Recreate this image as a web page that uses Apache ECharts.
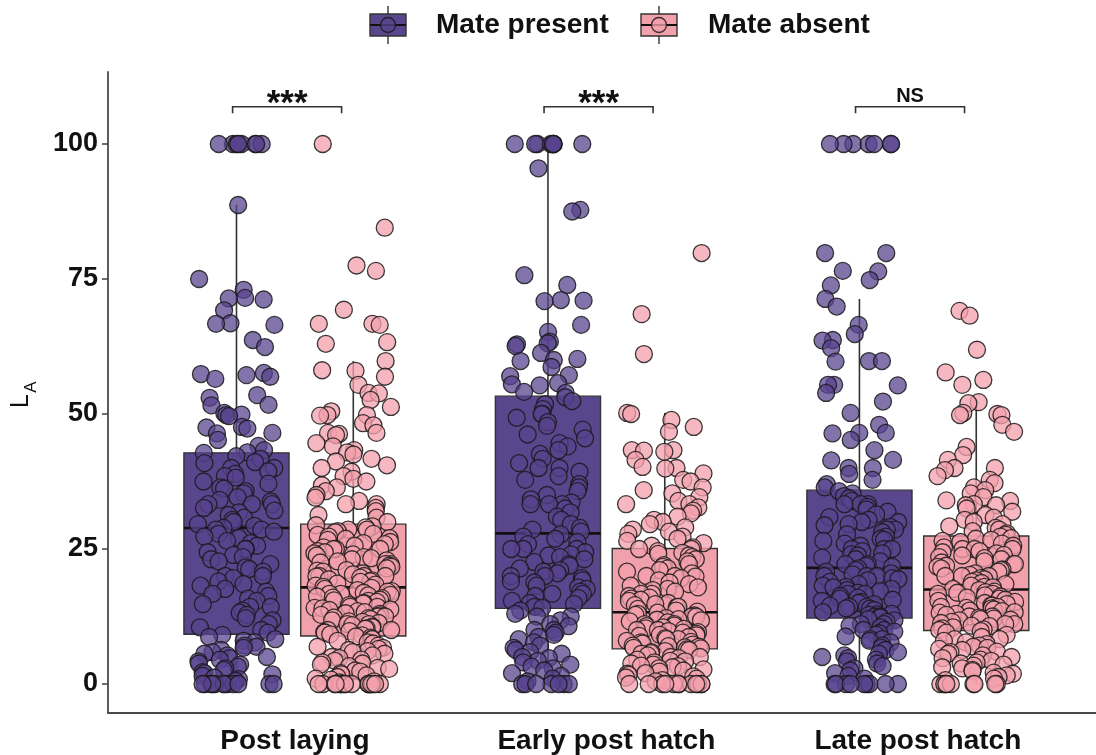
<!DOCTYPE html>
<html>
<head>
<meta charset="utf-8">
<script src="https://cdn.jsdelivr.net/npm/echarts@6/dist/echarts.min.js"></script>
<style>
  html, body { margin: 0; padding: 0; background: #ffffff; }
  #chart { width: 1096px; height: 755px; }
</style>
</head>
<body>
<div id="chart"></div>
<script>
// ---- data ----
const categories = ['Post laying', 'Early post hatch', 'Late post hatch'];
const groupNames = ['Mate present', 'Mate absent'];
const yTicks = [0, 25, 50, 75, 100];
const signifLabels = ['***', '***', 'NS'];

// individual L_A values per nest stage and treatment
const postLayingPresent = [
  100, 100, 100, 100, 100, 100, 100, 100, 88.7, 75.0, 73.0, 71.5, 71.4, 71.2, 69.2, 66.8, 66.7, 66.5,
  63.7, 62.4, 57.6, 57.4, 57.2, 56.9, 56.5, 53.5, 53.0, 51.7, 51.6, 50.2, 49.9, 49.8, 49.6, 47.6,
  47.5, 47.3, 46.5, 46.4, 45.2, 44.1, 43.3,
  42.9, 42.8, 42.2, 41.7, 41.1, 40.9, 40.0, 40.0, 39.4, 38.9, 38.5, 38.2, 37.5, 37.1, 36.4, 36.2,
  35.7, 35.3, 34.6, 34.1, 33.8, 33.3, 33.3, 33.3, 32.6, 32.1, 31.8, 31.3, 30.8, 30.4, 30.0, 29.6,
  29.3, 28.9, 28.6, 28.6,
  28.2, 27.8, 27.3, 27.0, 26.5, 26.1, 25.6, 25.0, 25.0, 24.4, 23.9, 23.5, 23.1, 22.7, 22.2, 21.6,
  21.3, 20.8, 20.0, 20.0, 19.6, 19.0, 18.5, 18.2, 17.6, 17.1, 16.7, 16.3, 15.8, 15.4, 14.8, 14.3,
  14.3, 13.6, 13.2, 12.8, 12.2, 11.8, 11.1, 10.5, 10.0, 9.5,
  9.1, 8.7, 8.3, 8.0, 7.7, 7.1, 6.9, 6.7, 6.3, 5.9, 5.6, 5.3, 5.0, 4.8, 4.5, 4.2, 3.8, 3.6, 3.2,
  2.9, 2.6, 2.2, 2.0, 1.8, 1.5, 1.2, 0.9, 0.6, 0, 0, 0, 0, 0, 0, 0, 0, 0, 0, 0, 0
];
const postLayingAbsent = [
  100, 84.5, 77.5, 76.5, 69.3, 66.7, 66.7, 66.5, 63.3, 63.0, 59.8, 58.1, 58.0, 56.9, 55.4, 53.9,
  53.8, 52.6, 51.3, 50.5, 49.8, 49.8, 49.7, 48.3, 47.9, 46.5, 46.5, 46.3, 46.1, 44.6, 44.0, 43.3,
  42.9, 42.5, 41.7, 41.2, 40.5, 40.0, 39.3, 38.5, 38.0, 37.5, 36.8, 36.4, 35.7, 35.0, 34.5, 33.9,
  33.3, 33.3, 32.6, 32.0, 31.3, 30.8, 30.0,
  29.4, 29.2, 29.0, 28.6, 28.6, 28.3, 28.1, 27.8, 27.6, 27.3, 27.0, 26.9, 26.7, 26.3, 26.1, 25.9,
  25.6, 25.3, 25.0, 25.0, 25.0, 24.6, 24.4, 24.2, 24.0, 23.8, 23.5, 23.3, 23.1, 22.9, 22.7, 22.5,
  22.2, 22.2, 21.9, 21.7, 21.4, 21.1, 21.0, 20.8, 20.5, 20.3, 20.0, 20.0, 20.0, 19.9, 19.7, 19.4,
  19.2, 19.0, 18.9, 18.6, 18.4, 18.2, 18.0,
  17.8, 17.6, 17.4, 17.2, 17.1, 16.9, 16.7, 16.7, 16.5, 16.4, 16.2, 16.0, 15.9, 15.6, 15.5, 15.4,
  15.2, 15.0, 14.9, 14.6, 14.3, 14.3, 14.1, 14.0, 13.8, 13.7, 13.5, 13.3, 13.1, 13.0, 12.8, 12.7,
  12.5, 12.5, 12.3, 12.2, 12.0, 11.8, 11.6, 11.5, 11.3, 11.1, 11.1, 10.9, 10.6, 10.5, 10.3, 10.2,
  10.0, 10.0, 9.8, 9.6, 9.5, 9.2, 9.0,
  8.8, 8.6, 8.3, 8.3, 8.0, 7.7, 7.5, 7.1, 6.9, 6.7, 6.5, 6.3, 6.1, 5.9, 5.6, 5.3, 5.0, 4.8, 4.5,
  4.3, 4.0, 3.8, 3.6, 3.3, 3.0, 2.8, 2.5, 2.3, 2.0, 1.8, 1.6, 1.3, 1.0, 0.8, 0.5, 0.3,
  0, 0, 0, 0, 0, 0, 0, 0, 0, 0, 0, 0, 0, 0, 0, 0
];
const earlyHatchPresent = [
  100, 100, 100, 100, 100, 100, 100, 100, 100, 95.5, 87.8, 87.5, 75.7, 73.9, 71.1, 71.0, 70.9, 66.5,
  65.2, 63.4, 63.1, 62.9, 62.6, 61.3, 60.2, 60.0, 59.8, 58.7, 57.2, 57.0, 55.7, 55.5, 55.3, 54.1, 53.9,
  53.1, 52.4, 51.8, 50.9, 50.0, 50.0, 49.3, 48.5, 47.8, 47.1, 46.2, 45.5, 44.6, 44.0, 43.3, 42.6,
  41.7, 40.9, 40.0, 40.0, 39.3, 38.5, 37.8, 37.0, 36.4, 35.7, 35.0, 34.2, 33.6, 33.3, 33.3, 33.3,
  32.5, 31.8, 31.0, 30.4, 29.6, 28.9, 28.6, 28.2,
  27.7, 27.3, 26.9, 26.3, 25.9, 25.0, 25.0, 25.0, 24.4, 24.0, 23.8, 23.5, 23.1, 22.6, 22.2, 21.9,
  21.4, 21.1, 20.8, 20.5, 20.0, 20.0, 19.6, 19.2, 19.0, 18.8, 18.2, 17.9, 17.6, 17.1, 16.7, 16.7,
  16.3, 15.9, 15.4, 15.0, 14.8, 14.3, 14.3, 14.1,
  13.6, 13.0, 12.5, 12.5, 11.8, 11.1, 10.7, 10.0, 10.0, 9.5, 9.1, 8.7, 8.3, 7.7, 7.1, 6.7, 6.3,
  5.9, 5.6, 5.0, 4.8, 4.3, 4.0, 3.6, 3.2, 2.9, 2.5, 2.0, 1.5, 1.0, 0.5, 0, 0, 0, 0, 0, 0, 0
];
const earlyHatchAbsent = [
  79.8, 68.5, 61.1, 50.2, 50.0, 48.9, 47.6, 46.7, 43.3, 43.3, 43.2, 43.0, 41.5, 40.2, 40.0, 39.9,
  39.0, 37.8, 37.5, 36.4, 35.9, 35.3, 34.6, 33.9, 33.3, 33.3, 32.7, 32.1, 31.6, 31.0, 30.4, 30.0,
  29.6, 29.0, 28.6, 28.2, 27.8, 27.3, 26.9, 26.5, 26.1, 25.6, 25.3,
  25.0, 25.0, 24.6, 24.3, 24.1, 23.8, 23.5, 23.1, 22.7, 22.2, 22.0, 21.7, 21.4, 21.1, 20.8, 20.5,
  20.0, 20.0, 19.9, 19.6, 19.2, 18.8, 18.5, 18.2, 17.9, 17.6, 17.4, 17.1, 16.7, 16.7, 16.3, 16.0,
  15.8, 15.6, 15.4, 15.0, 14.8, 14.6, 14.3, 14.3, 13.9, 13.6, 13.4,
  13.2, 13.0, 12.8, 12.7, 12.5, 12.5, 12.2, 12.0, 11.9, 11.8, 11.6, 11.4, 11.1, 11.1, 10.8, 10.7,
  10.5, 10.3, 10.2, 10.0, 10.0, 9.8, 9.6, 9.5, 9.3, 9.1, 9.0, 8.9, 8.7, 8.5, 8.3, 8.3, 8.0, 7.8,
  7.7, 7.5, 7.3, 7.1, 7.0, 6.9, 6.8, 6.7, 6.6,
  6.4, 6.3, 6.1, 5.9, 5.7, 5.6, 5.3, 5.0, 5.0, 4.8, 4.5, 4.3, 4.2, 4.0, 3.8, 3.6, 3.4, 3.3, 3.1,
  2.9, 2.7, 2.5, 2.3, 2.0, 1.9, 1.7, 1.4, 1.2, 1.0, 0.7, 0.5, 0, 0, 0, 0, 0, 0, 0, 0, 0, 0, 0, 0
];
const lateHatchPresent = [
  100, 100, 100, 100, 100, 100, 100, 79.8, 79.8, 76.5, 76.4, 74.8, 73.8, 71.3, 69.9, 66.5, 64.8,
  63.7, 63.6, 62.2, 59.8, 59.8, 59.7, 55.4, 55.4, 55.3, 53.9, 52.3, 50.2, 48.0, 46.5, 46.5, 46.4,
  45.2, 43.3, 41.5, 41.4, 40.0, 40.0, 38.9, 37.8, 37.0, 36.4,
  35.7, 35.3, 34.8, 34.4, 33.9, 33.3, 33.3, 33.3, 32.8, 32.3, 31.9, 31.4, 30.9, 30.4, 30.0, 30.0,
  29.6, 29.4, 29.1, 28.6, 28.6, 28.1, 27.7, 27.3, 26.9, 26.7, 26.5, 26.0, 25.6, 25.0, 25.0, 25.0,
  24.6, 24.2, 24.0, 23.8, 23.4, 23.1, 22.7, 22.2, 22.2, 21.9, 21.7,
  21.4, 21.1, 20.8, 20.5, 20.3, 20.0, 20.0, 20.0, 19.6, 19.4, 19.2, 18.9, 18.5, 18.2, 18.0, 17.9,
  17.6, 17.4, 17.2, 16.9, 16.7, 16.7, 16.3, 16.0, 15.8, 15.6, 15.4, 15.2, 15.0, 14.8, 14.5, 14.3,
  14.3, 14.0, 13.9, 13.7, 13.3, 13.0, 12.9, 12.8, 12.5, 12.5, 12.3,
  12.0, 11.8, 11.5, 11.1, 11.1, 10.8, 10.5, 10.0, 10.0, 9.7, 9.4, 9.1, 8.8, 8.3, 8.3, 8.0, 7.7,
  7.1, 6.7, 6.3, 5.9, 5.6, 5.3, 5.0, 4.8, 4.5, 4.2, 3.8, 3.3, 2.9, 2.5, 2.0, 1.5, 1.0,
  0, 0, 0, 0, 0, 0, 0, 0, 0
];
const lateHatchAbsent = [
  69.1, 68.2, 61.9, 57.7, 56.3, 55.4, 52.2, 52.0, 50.2, 50.0, 49.8, 49.8, 48.0, 46.7, 43.9, 42.4,
  41.5, 40.0, 40.0, 39.6, 38.5, 37.8, 37.2, 36.4, 35.9, 35.3, 34.6, 34.0, 33.9, 33.3, 33.1, 33.1,
  32.5, 31.9, 31.3, 30.8, 30.4, 30.0, 29.6, 29.2, 28.9, 28.6, 28.3, 27.9, 27.6,
  27.3, 27.0, 26.9, 26.7, 26.5, 26.3, 26.0, 25.6, 25.3, 25.0, 25.0, 25.0, 24.6, 24.4, 24.2, 23.9,
  23.8, 23.5, 23.3, 23.1, 22.7, 22.5, 22.2, 22.2, 21.9, 21.7, 21.4, 21.2, 21.1, 20.8, 20.5, 20.2,
  20.0, 20.0, 20.0, 19.6, 19.4, 19.2, 18.9, 18.7, 18.5, 18.2, 18.0, 17.9, 17.6,
  17.4, 17.1, 17.0, 16.9, 16.7, 16.7, 16.4, 16.2, 16.0, 15.8, 15.6, 15.4, 15.2, 15.0, 14.8, 14.6,
  14.5, 14.3, 14.3, 14.1, 14.0, 13.8, 13.6, 13.5, 13.3, 13.2, 13.0, 12.8, 12.5, 12.5, 12.3, 12.1,
  12.0, 11.9, 11.8, 11.5, 11.3, 11.1, 11.1, 10.8, 10.7, 10.5, 10.3, 10.1, 10.0,
  9.8, 9.5, 9.1, 8.7, 8.3, 8.3, 8.0, 7.7, 7.4, 7.1, 6.9, 6.7, 6.5, 6.3, 6.0, 5.9, 5.6, 5.3, 5.0,
  4.8, 4.5, 4.3, 4.0, 3.8, 3.6, 3.4, 3.1, 2.9, 2.6, 2.4, 2.1, 1.9, 1.6, 1.3, 1.0, 0.7,
  0, 0, 0, 0, 0, 0, 0, 0, 0
];

// box summaries per stage: [lower whisker, Q1, median, Q3, upper whisker]
const boxPresent = [
  [0, 9.2, 28.9, 42.8, 88.7],
  [0, 14.0, 27.9, 53.3, 100],
  [0, 12.2, 21.5, 35.9, 71.3]
];
const boxAbsent = [
  [0, 8.9, 17.9, 29.6, 59.8],
  [0, 6.5, 13.3, 25.1, 50.2],
  [0, 9.9, 17.5, 27.4, 52.2]
];

// ---- styling ----
const PURPLE = '#5A468C';
const PINK = '#F0A1AB';
const PURPLE_PT = 'rgba(88,66,142,0.74)';
const PINK_PT = 'rgba(243,160,172,0.76)';
const OUTLINE = 'rgba(25,25,25,0.85)';
const AXIS_COLOR = '#4a4a4a';
const FONT = '"Liberation Sans", Arial, Helvetica, sans-serif';
const DODGE = 0.1875;
const BOX_W = 0.3375;
const JITTER = 0.125;
const BRACKET_Y = 106.9;
const BRACKET_DROP = 1.2;

// horizontal jitter: a fixed hash of the point index, so the layout is stable
function jitterOffset(i, seed) {
  const s = Math.sin((i + 1) * 12.9898 + seed * 78.233) * 43758.5453;
  const f = s - Math.floor(s);
  return (f - 0.5) * 2 * JITTER;
}
function pointData(sets, shift, seedBase) {
  const out = [];
  sets.forEach((vals, c) => {
    vals.forEach((v, i) => out.push([c + 1 + shift + jitterOffset(i, seedBase + c), v]));
  });
  return out;
}
function boxData(stats, shift, g) {
  return stats.map((s, c) => [c + 1 + shift, s[0], s[1], s[2], s[3], s[4], g]);
}

function renderBox(params, api) {
  const x = api.value(0);
  const lo = api.coord([x, api.value(1)]);
  const q1 = api.coord([x, api.value(2)]);
  const md = api.coord([x, api.value(3)]);
  const q3 = api.coord([x, api.value(4)]);
  const hi = api.coord([x, api.value(5)]);
  const w = api.size([BOX_W, 0])[0];
  const fill = api.value(6) === 0 ? PURPLE : PINK;
  const ls = { stroke: '#333333', lineWidth: 1.6 };
  return {
    type: 'group',
    children: [
      { type: 'line', shape: { x1: hi[0], y1: hi[1], x2: q3[0], y2: q3[1] }, style: ls },
      { type: 'line', shape: { x1: lo[0], y1: lo[1], x2: q1[0], y2: q1[1] }, style: ls },
      { type: 'rect', shape: { x: q3[0] - w / 2, y: q3[1], width: w, height: q1[1] - q3[1] },
        style: { fill: fill, stroke: '#333333', lineWidth: 1.4 } },
      { type: 'line', shape: { x1: md[0] - w / 2, y1: md[1], x2: md[0] + w / 2, y2: md[1] },
        style: { stroke: '#111111', lineWidth: 2.6 } }
    ]
  };
}

function renderBracket(params, api) {
  const x1 = api.value(0), x2 = api.value(1), y = api.value(2);
  const a = api.coord([x1, y - BRACKET_DROP]);
  const b = api.coord([x1, y]);
  const c = api.coord([x2, y]);
  const d = api.coord([x2, y - BRACKET_DROP]);
  const label = signifLabels[params.dataIndex];
  const stars = label.indexOf('*') >= 0;
  return {
    type: 'group',
    children: [
      { type: 'polyline', shape: { points: [a, b, c, d] },
        style: { stroke: '#333333', lineWidth: 1.6, fill: null } },
      { type: 'text', x: (b[0] + c[0]) / 2, y: stars ? b[1] - 2 : b[1] - 10,
        style: { text: label, fill: '#111111', font: 'bold ' + (stars ? 35 : 20) + 'px ' + FONT,
                 align: 'center', verticalAlign: 'middle' } }
    ]
  };
}

const bracketData = categories.map((c, i) => [i + 1 - 0.2, i + 1 + 0.15, BRACKET_Y]);

// legend keys drawn as small boxplot glyphs
function legendKey(x, fill, ptFill) {
  return [
    { type: 'line', shape: { x1: x + 18, y1: 6, x2: x + 18, y2: 44 }, style: { stroke: '#333', lineWidth: 1.4 } },
    { type: 'rect', shape: { x: x, y: 14, width: 36, height: 22 }, style: { fill: fill, stroke: '#333', lineWidth: 1.4 } },
    { type: 'line', shape: { x1: x, y1: 25, x2: x + 36, y2: 25 }, style: { stroke: '#111', lineWidth: 2 } },
    { type: 'circle', shape: { cx: x + 18, cy: 25, r: 7.5 }, style: { fill: ptFill, stroke: OUTLINE, lineWidth: 1.3 } }
  ];
}

const chart = echarts.init(document.getElementById('chart'), null, { renderer: 'canvas' });
chart.setOption({
  animation: false,
  backgroundColor: '#ffffff',
  grid: { left: 108, right: 0, top: 72, bottom: 42, containLabel: false, outerBoundsMode: 'none' },
  xAxis: {
    type: 'value', min: 0.4, max: 3.572,
    axisLine: { show: true, onZero: false, lineStyle: { color: AXIS_COLOR, width: 1.8 } },
    axisTick: { show: false },
    splitLine: { show: false },
    axisLabel: {
      customValues: [1, 2, 3],
      formatter: v => categories[Math.round(v) - 1],
      color: '#111111', fontFamily: FONT, fontWeight: 'bold', fontSize: 28, margin: 14
    }
  },
  yAxis: {
    type: 'value', min: -5.37, max: 113.33,
    axisLine: { show: true, onZero: false, lineStyle: { color: AXIS_COLOR, width: 1.8 } },
    axisTick: { show: true, customValues: yTicks, length: 6, lineStyle: { color: AXIS_COLOR, width: 1.6 } },
    splitLine: { show: false },
    axisLabel: {
      customValues: yTicks,
      color: '#111111', fontFamily: FONT, fontWeight: 'bold', fontSize: 27, margin: 10
    }
  },
  graphic: [
    { type: 'text', x: 21, y: 401, rotation: Math.PI / 2,
      style: { text: 'L', font: '25px ' + FONT, fill: '#111', align: 'center', verticalAlign: 'middle' } },
    { type: 'text', x: 31, y: 387, rotation: Math.PI / 2,
      style: { text: 'A', font: '17px ' + FONT, fill: '#111', align: 'center', verticalAlign: 'middle' } },
    ...legendKey(370, PURPLE, PURPLE_PT),
    { type: 'text', x: 436, y: 25,
      style: { text: groupNames[0], font: 'bold 28px ' + FONT, fill: '#111', align: 'left', verticalAlign: 'middle' } },
    ...legendKey(641, PINK, PINK_PT),
    { type: 'text', x: 708, y: 25,
      style: { text: groupNames[1], font: 'bold 28px ' + FONT, fill: '#111', align: 'left', verticalAlign: 'middle' } }
  ],
  series: [
    { type: 'custom', name: 'boxes', renderItem: renderBox, z: 2, silent: true,
      data: boxData(boxPresent, -DODGE, 0).concat(boxData(boxAbsent, DODGE, 1)) },
    { type: 'scatter', name: groupNames[0], z: 3, symbol: 'circle', symbolSize: 17,
      itemStyle: { color: PURPLE_PT, borderColor: OUTLINE, borderWidth: 1.3, opacity: 1 },
      data: pointData([postLayingPresent, earlyHatchPresent, lateHatchPresent], -DODGE, 1) },
    { type: 'scatter', name: groupNames[1], z: 3, symbol: 'circle', symbolSize: 17,
      itemStyle: { color: PINK_PT, borderColor: OUTLINE, borderWidth: 1.3, opacity: 1 },
      data: pointData([postLayingAbsent, earlyHatchAbsent, lateHatchAbsent], DODGE, 7) },
    { type: 'custom', name: 'brackets', renderItem: renderBracket, z: 4, silent: true,
      clip: false, data: bracketData }
  ]
});
</script>
</body>
</html>
